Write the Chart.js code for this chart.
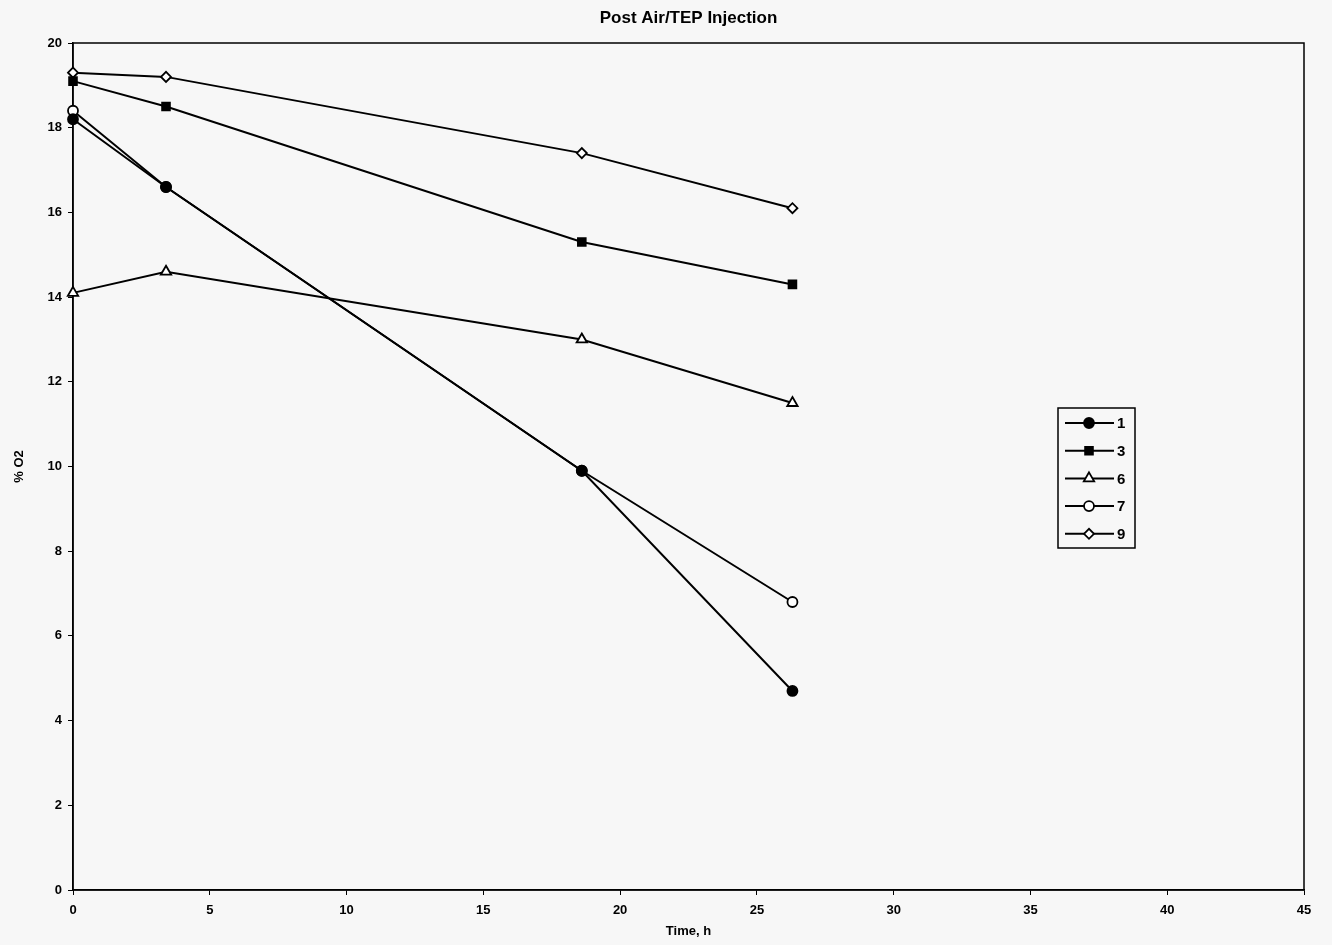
<!DOCTYPE html>
<html><head><meta charset="utf-8">
<script src="https://cdn.jsdelivr.net/npm/chart.js@4/dist/chart.umd.min.js"></script>
<style>html,body{margin:0;padding:0;background:#f7f7f7;}#wrap{width:1332px;height:945px;}</style>
</head><body><div id="wrap"><canvas id="c" width="1332" height="945"></canvas></div>
<script>
const timeH = [0, 3.4, 18.6, 26.3];
const s1 = [18.2, 16.6, 9.9, 4.7];
const s3 = [19.1, 18.5, 15.3, 14.3];
const s6 = [14.1, 14.6, 13.0, 11.5];
const s7 = [18.4, 16.6, 9.9, 6.8];
const s9 = [19.3, 19.2, 17.4, 16.1];
const seriesNames = ['1', '3', '6', '7', '9'];
const xTicks = [0, 5, 10, 15, 20, 25, 30, 35, 40, 45];
const yTicks = [0, 2, 4, 6, 8, 10, 12, 14, 16, 18, 20];

const pts = arr => arr.map((v, i) => ({x: timeH[i], y: v}));
const styles = [
  {pointStyle: 'circle', bg: '#000', r: 5},
  {pointStyle: 'rect', bg: '#000', r: 5.5},
  {pointStyle: 'triangle', bg: '#fff', r: 6},
  {pointStyle: 'circle', bg: '#fff', r: 5},
  {pointStyle: 'rectRot', bg: '#fff', r: 5}
];
const data = [s1, s3, s6, s7, s9];
const datasets = data.map((d, i) => ({
  label: seriesNames[i], data: pts(d), borderColor: '#000', borderWidth: 2,
  pointStyle: styles[i].pointStyle, pointBackgroundColor: styles[i].bg,
  pointBorderColor: '#000', pointBorderWidth: 1.8, pointRadius: styles[i].r,
  fill: false, tension: 0, clip: false
}));

const FONT = "'Liberation Sans', Arial, sans-serif";
const deco = {
  id: 'deco',
  beforeDraw(chart) {
    const ctx = chart.ctx;
    ctx.save(); ctx.fillStyle = '#f7f7f7'; ctx.fillRect(0, 0, chart.width, chart.height); ctx.restore();
  },
  beforeDatasetsDraw(chart) {
    const ctx = chart.ctx, a = chart.chartArea;
    ctx.save();
    ctx.strokeStyle = '#000'; ctx.lineWidth = 1.5;
    ctx.strokeRect(a.left, a.top, a.right - a.left, a.bottom - a.top);
    ctx.restore();
  },
  afterDatasetsDraw(chart) {
    const ctx = chart.ctx, a = chart.chartArea;
    ctx.save();
    // title
    ctx.fillStyle = '#000'; ctx.font = "bold 17px " + FONT;
    ctx.textAlign = 'center'; ctx.textBaseline = 'middle';
    ctx.fillText('Post Air/TEP Injection', (a.left + a.right) / 2, 18);
    // legend
    const lx = 1058, ly = 408, lw = 77, lh = 140;
    ctx.strokeStyle = '#000'; ctx.lineWidth = 1.5; ctx.strokeRect(lx, ly, lw, lh);
    ctx.font = "bold 15px " + FONT; ctx.textAlign = 'left';
    chart.data.datasets.forEach((ds, i) => {
      const y = ly + 15 + i * 27.7;
      ctx.beginPath(); ctx.moveTo(lx + 7, y); ctx.lineTo(lx + 56, y);
      ctx.lineWidth = 2; ctx.strokeStyle = '#000'; ctx.stroke();
      ctx.fillStyle = ds.pointBackgroundColor; ctx.lineWidth = 1.8;
      Chart.helpers.drawPoint(ctx, {pointStyle: ds.pointStyle, radius: ds.pointRadius, borderWidth: 1.8}, lx + 31, y);
      ctx.fillStyle = '#000';
      ctx.fillText(ds.label, lx + 59, y + 1);
    });
    ctx.restore();
  }
};

new Chart(document.getElementById('c'), {
  type: 'line',
  data: {datasets},
  options: {
    responsive: false, animation: false,
    layout: {padding: {top: 43, right: 28, left: 0, bottom: 0}},
    plugins: {legend: {display: false}, title: {display: false}, tooltip: {enabled: false}},
    scales: {
      x: {
        type: 'linear', min: 0, max: 45,
        afterBuildTicks: s => { s.ticks = xTicks.map(v => ({value: v})); },
        afterFit: s => { s.height = 55; },
        grid: {display: true, drawOnChartArea: false, drawTicks: true, tickLength: 5, color: '#000', lineWidth: 1},
        border: {display: true, color: '#000', width: 1.5},
        ticks: {color: '#000', font: {family: FONT, size: 13, weight: 'bold'}, padding: 8, maxRotation: 0},
        title: {display: true, text: 'Time, h', color: '#000', font: {family: FONT, size: 13, weight: 'bold'}, padding: {top: 0, bottom: 6}}
      },
      y: {
        type: 'linear', min: 0, max: 20,
        afterBuildTicks: s => { s.ticks = yTicks.map(v => ({value: v})); },
        afterFit: s => { s.width = 73; },
        grid: {display: true, drawOnChartArea: false, drawTicks: true, tickLength: 5, color: '#000', lineWidth: 1},
        border: {display: true, color: '#000', width: 1.5},
        ticks: {color: '#000', font: {family: FONT, size: 13, weight: 'bold'}, padding: 6},
        title: {display: true, text: '% O2', color: '#000', font: {family: FONT, size: 13, weight: 'bold'}, padding: {top: 12, bottom: 4}}
      }
    }
  },
  plugins: [deco]
});
</script></body></html>
